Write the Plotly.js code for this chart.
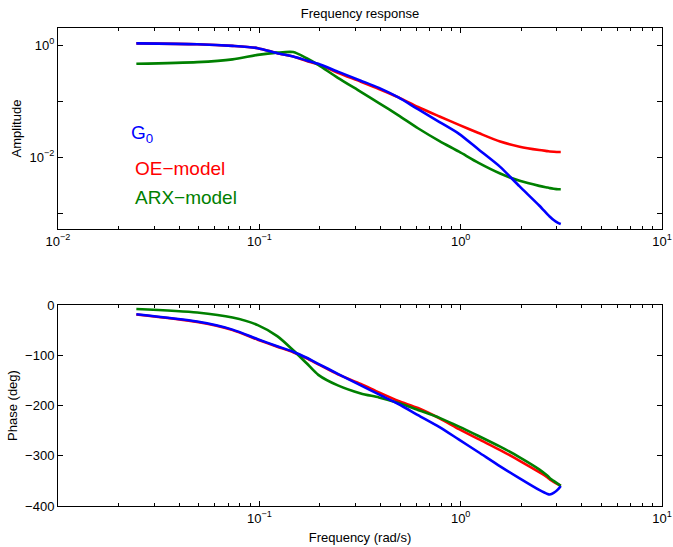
<!DOCTYPE html>
<html>
<head>
<meta charset="utf-8">
<script src="https://cdn.plot.ly/plotly-3.0.1.min.js"></script>
<style>
  html, body { margin: 0; padding: 0; background: #ffffff; }
  #chart { width: 673px; height: 547px; }
</style>
</head>
<body>
<div id="chart"></div>
<script>
// Frequencies (rad/s)
const freq = [0.0245, 0.0491, 0.0736, 0.0982, 0.1227, 0.1473, 0.1718, 0.1963, 0.2454, 0.3191,
              0.3927, 0.4909, 0.6136, 0.7854, 0.9817, 1.2272, 1.5708, 1.9635, 2.4544, 2.6998,
              2.7734, 2.8962, 3.0434, 3.1416];

// Amplitude
const ampG0  = [1.084, 1.047, 0.977, 0.891, 0.724, 0.631, 0.537, 0.468, 0.339, 0.234,
                0.174, 0.1175, 0.0724, 0.0427, 0.0263, 0.0138, 0.00676, 0.00302, 0.00138, 0.000955,
                0.000871, 0.000759, 0.000676, 0.000646];
const ampOE  = [1.084, 1.047, 0.977, 0.891, 0.724, 0.631, 0.525, 0.457, 0.324, 0.224,
                0.166, 0.1175, 0.0794, 0.0537, 0.0380, 0.0272, 0.0191, 0.0155, 0.0135, 0.0129,
                0.01274, 0.01259, 0.01245, 0.01245];
const ampARX = [0.468, 0.501, 0.562, 0.676, 0.741, 0.759, 0.589, 0.447, 0.263, 0.148,
                0.0933, 0.0562, 0.0331, 0.0195, 0.0126, 0.00794, 0.00513, 0.0038, 0.00309, 0.00288,
                0.00282, 0.00275, 0.00269, 0.00269];

// Phase (deg)
const phaseG0  = [-18.5, -33, -49, -68, -82, -93, -105, -117, -137, -160,
                  -178, -197, -219, -243, -268, -293, -321, -345, -368, -376,
                  -377, -374, -367, -360];
const phaseOE  = [-19, -34, -50, -69, -83, -94, -106, -118, -138, -157,
                  -174, -191, -205, -225.5, -247, -267, -288.7, -310, -332.6, -343,
                  -347, -352, -357, -360];
const phaseARX = [-8, -15, -25, -40, -62, -90, -116, -139, -160, -176,
                  -184, -195, -208.8, -224.6, -242, -260.7, -282, -303, -327, -340,
                  -344.6, -350, -356, -360];

// Tick labels
const xTickVals = [0.01, 0.1, 1, 10];
const xTickTextTop = ['10<sup>−2</sup>', '10<sup>−1</sup>', '10<sup>0</sup>', '10<sup>1</sup>'];
const xTickTextBottom = ['', '10<sup>−1</sup>', '10<sup>0</sup>', '10<sup>1</sup>'];
const xMinorVals = [0.02,0.03,0.04,0.05,0.06,0.07,0.08,0.09,0.2,0.3,0.4,0.5,0.6,0.7,0.8,0.9,2,3,4,5,6,7,8,9];
const ampTickVals = [1, 0.1, 0.01, 0.001];
const ampTickText = ['10<sup>0</sup>', '', '10<sup>−2</sup>', ''];
const phaseTickVals = [0, -100, -200, -300, -400];

const seriesNames = ['G0', 'OE-model', 'ARX-model'];
const colors = {G0: '#0000ff', OE: '#ff0000', ARX: '#008000'};

const FONT = 'Liberation Sans, Arial, Helvetica, sans-serif';
const lw = 2.6;
const shape = {shape: 'spline', smoothing: 0.7};

function ln(color) { return Object.assign({color: color, width: lw}, shape); }

const traces = [
  {x: freq, y: ampOE,  xaxis: 'x',  yaxis: 'y',  mode: 'lines', name: seriesNames[1], line: ln(colors.OE)},
  {x: freq, y: ampARX, xaxis: 'x',  yaxis: 'y',  mode: 'lines', name: seriesNames[2], line: ln(colors.ARX)},
  {x: freq, y: ampG0,  xaxis: 'x',  yaxis: 'y',  mode: 'lines', name: seriesNames[0], line: ln(colors.G0)},
  {x: freq, y: phaseOE,  xaxis: 'x2', yaxis: 'y2', mode: 'lines', name: seriesNames[1], line: ln(colors.OE)},
  {x: freq, y: phaseARX, xaxis: 'x2', yaxis: 'y2', mode: 'lines', name: seriesNames[2], line: ln(colors.ARX)},
  {x: freq, y: phaseG0,  xaxis: 'x2', yaxis: 'y2', mode: 'lines', name: seriesNames[0], line: ln(colors.G0)}
];

const W = 673, H = 547;
const axL = 58, axR = 662;
const topT = 28, topB = 229, botT = 305, botB = 506;

function baseAxis() {
  return {
    showline: true, linecolor: '#000', linewidth: 1, mirror: 'allticks',
    ticks: 'inside', ticklen: 5, tickwidth: 1, tickcolor: '#000',
    showgrid: false, zeroline: false,
    tickfont: {family: FONT, size: 13, color: '#000'}
  };
}

const layout = {
  width: W, height: H,
  margin: {l: 0, r: 0, t: 0, b: 0},
  paper_bgcolor: '#fff', plot_bgcolor: '#fff',
  showlegend: false,
  font: {family: FONT, size: 13, color: '#000'},
  title: {text: 'Frequency response', font: {family: FONT, size: 13, color: '#000'},
          x: (axL + axR) / 2 / W, xanchor: 'center', y: 1 - 13 / H, yanchor: 'middle', xref: 'paper', yref: 'container'},
  xaxis: Object.assign(baseAxis(), {
    type: 'log', domain: [axL / W, axR / W], range: [-2, 1], anchor: 'y',
    tickmode: 'array', tickvals: xTickVals, ticktext: xTickTextTop,
    minor: {tickmode: 'array', tickvals: xMinorVals, ticks: 'inside', ticklen: 3, tickcolor: '#000', showgrid: false}
  }),
  yaxis: Object.assign(baseAxis(), {
    type: 'log', domain: [1 - topB / H, 1 - topT / H], range: [-3.28, 0.31], anchor: 'x',
    tickmode: 'array', tickvals: ampTickVals, ticktext: ampTickText,
    title: {text: 'Amplitude', font: {family: FONT, size: 13}, standoff: 5}
  }),
  xaxis2: Object.assign(baseAxis(), {
    type: 'log', domain: [axL / W, axR / W], range: [-2, 1], anchor: 'y2',
    tickmode: 'array', tickvals: xTickVals, ticktext: xTickTextBottom,
    minor: {tickmode: 'array', tickvals: xMinorVals, ticks: 'inside', ticklen: 3, tickcolor: '#000', showgrid: false},
    title: {text: 'Frequency (rad/s)', font: {family: FONT, size: 13}, standoff: 8}
  }),
  yaxis2: Object.assign(baseAxis(), {
    domain: [1 - botB / H, 1 - botT / H], range: [-400, 0], anchor: 'x2',
    tickmode: 'array', tickvals: phaseTickVals,
    title: {text: 'Phase (deg)', font: {family: FONT, size: 13}, standoff: 4}
  }),
  annotations: [
    {text: 'G<sub>0</sub>', xref: 'paper', yref: 'paper', x: 129 / W, y: 1 - 134 / H, xanchor: 'left', yanchor: 'middle',
     showarrow: false, font: {family: FONT, size: 19, color: colors.G0}},
    {text: 'OE−model', xref: 'paper', yref: 'paper', x: 133 / W, y: 1 - 168 / H, xanchor: 'left', yanchor: 'middle',
     showarrow: false, font: {family: FONT, size: 19, color: colors.OE}},
    {text: 'ARX−model', xref: 'paper', yref: 'paper', x: 133 / W, y: 1 - 198 / H, xanchor: 'left', yanchor: 'middle',
     showarrow: false, font: {family: FONT, size: 19, color: colors.ARX}}
  ]
};

Plotly.newPlot('chart', traces, layout, {staticPlot: true, displayModeBar: false});
</script>
</body>
</html>
